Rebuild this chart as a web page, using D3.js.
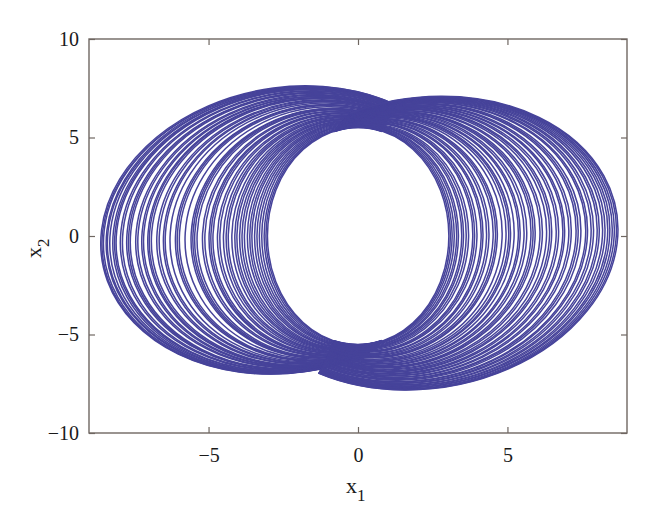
<!DOCTYPE html>
<html><head><meta charset="utf-8">
<script src="https://cdn.jsdelivr.net/npm/d3@7"></script>
<style>body{margin:0;background:#fff}</style>
</head><body>
<svg id="c" width="660" height="525"></svg>
<script>
// axis ticks
const xTicks = [-5, 0, 5];
const yTicks = [-10, -5, 0, 5, 10];
const xDomain = [-9, 9];
const yDomain = [-10, 10];

// left half-loops (x1 < 0): leftmost x1, centre x1, top x2, bottom x2
const leftArcX = [-8.58,-8.54,-8.49,-8.40,-8.36,-8.28,-8.18,-8.12,-8.07,-7.93,-7.86,-7.72,-7.66,-7.60,-7.42,-7.35,-7.22,-7.16,-7.02,-6.97,-6.90,-6.72,-6.64,-6.50,-6.44,-6.28,-6.10,-6.04,-5.97,-5.78,-5.58,-5.52,-5.46,-5.38,-5.20,-5.12,-4.98,-4.92,-4.85,-4.70,-4.62,-4.50,-4.41,-4.34,-4.22,-4.12,-4.05,-3.96,-3.88,-3.80,-3.70,-3.62,-3.55,-3.46,-3.38,-3.30,-3.22,-3.14,-3.08,-3.03];
const leftArcMid = [-2.34,-2.33,-2.28,-2.27,-2.25,-2.22,-2.18,-2.15,-2.13,-2.07,-2.04,-1.98,-1.96,-1.93,-1.86,-1.83,-1.77,-1.75,-1.69,-1.67,-1.64,-1.56,-1.53,-1.47,-1.44,-1.38,-1.30,-1.28,-1.25,-1.17,-1.08,-1.06,-1.03,-1.00,-0.92,-0.89,-0.83,-0.81,-0.78,-0.71,-0.68,-0.63,-0.59,-0.56,-0.51,-0.47,-0.44,-0.40,-0.37,-0.34,-0.29,-0.26,-0.23,-0.19,-0.16,-0.13,-0.09,-0.06,-0.03,-0.01];
const leftArcTop = [7.62,7.57,7.59,7.55,7.50,7.51,7.47,7.45,7.43,7.37,7.35,7.29,7.27,7.25,7.18,7.15,7.10,7.08,7.03,7.01,6.98,6.91,6.88,6.83,6.81,6.75,6.68,6.66,6.63,6.56,6.48,6.46,6.43,6.40,6.34,6.31,6.25,6.23,6.20,6.15,6.12,6.07,6.04,6.01,5.96,5.93,5.90,5.86,5.83,5.80,5.77,5.74,5.71,5.67,5.64,5.61,5.58,5.55,5.53,5.51];
const leftArcBottom = [-7.01,-7.00,-6.98,-6.96,-6.95,-6.93,-6.92,-6.88,-6.87,-6.83,-6.81,-6.77,-6.76,-6.74,-6.69,-6.67,-6.64,-6.62,-6.59,-6.57,-6.55,-6.50,-6.48,-6.45,-6.43,-6.39,-6.34,-6.32,-6.30,-6.25,-6.20,-6.18,-6.16,-6.14,-6.09,-6.07,-6.03,-6.02,-6.00,-5.96,-5.94,-5.91,-5.88,-5.86,-5.83,-5.80,-5.78,-5.76,-5.74,-5.72,-5.69,-5.67,-5.65,-5.62,-5.60,-5.58,-5.56,-5.54,-5.52,-5.51];

// right half-loops (x1 > 0): rightmost x1, centre x1, top x2, bottom x2
const rightArcX = [3.04,3.09,3.15,3.22,3.30,3.36,3.47,3.53,3.62,3.70,3.84,3.90,3.98,4.12,4.18,4.30,4.38,4.52,4.60,4.66,4.82,4.95,5.04,5.10,5.22,5.36,5.42,5.55,5.64,5.78,5.85,5.92,6.08,6.16,6.30,6.40,6.47,6.62,6.70,6.84,6.90,7.04,7.12,7.28,7.35,7.44,7.60,7.66,7.78,7.86,7.98,8.05,8.16,8.24,8.33,8.40,8.48,8.55,8.62,8.67];
const rightArcMid = [0.02,0.04,0.06,0.09,0.12,0.14,0.18,0.21,0.24,0.27,0.33,0.35,0.38,0.44,0.46,0.51,0.54,0.59,0.62,0.65,0.71,0.76,0.80,0.82,0.87,0.92,0.94,0.99,1.03,1.08,1.11,1.14,1.20,1.23,1.29,1.33,1.35,1.41,1.44,1.50,1.52,1.58,1.61,1.67,1.70,1.73,1.79,1.82,1.86,1.90,1.94,1.97,2.01,2.04,2.08,2.11,2.14,2.16,2.19,2.21];
const rightArcTop = [5.51,5.53,5.54,5.56,5.58,5.60,5.63,5.65,5.67,5.70,5.74,5.75,5.77,5.81,5.83,5.86,5.89,5.93,5.95,5.96,6.01,6.05,6.07,6.09,6.12,6.16,6.18,6.21,6.24,6.28,6.30,6.32,6.36,6.38,6.42,6.45,6.47,6.51,6.54,6.58,6.59,6.63,6.65,6.70,6.72,6.74,6.79,6.80,6.84,6.86,6.89,6.91,6.94,6.97,6.99,7.01,7.03,7.05,7.07,7.09];
const rightArcBottom = [-5.52,-5.54,-5.56,-5.59,-5.62,-5.65,-5.69,-5.72,-5.75,-5.79,-5.84,-5.87,-5.90,-5.96,-5.98,-6.03,-6.07,-6.12,-6.16,-6.18,-6.25,-6.30,-6.34,-6.36,-6.41,-6.47,-6.49,-6.55,-6.58,-6.64,-6.67,-6.70,-6.76,-6.80,-6.85,-6.89,-6.92,-6.98,-7.02,-7.07,-7.10,-7.16,-7.19,-7.25,-7.28,-7.32,-7.39,-7.41,-7.46,-7.49,-7.54,-7.57,-7.62,-7.65,-7.69,-7.71,-7.75,-7.78,-7.80,-7.82];

// hole half-width, distance each half-loop runs past x1 = 0, and lean of the widest loops
const holeHalfWidth = 3;
const crossOver = 0.8;
const maxTilt = 0.08; // x1 shift per unit of x2 for the outermost loops

const svg = d3.select("#c");
const x = d3.scaleLinear().domain(xDomain).range([89, 627]);
const y = d3.scaleLinear().domain(yDomain).range([433, 39]);

const spread = d3.scaleLinear().domain([0, 5.6]).range([0, maxTilt]).clamp(true);

function arcs(ext, mid, top, bot, side) {
  return ext.map((e, i) => ({
    cx: mid[i],
    cy: (top[i] + bot[i]) / 2,
    rx: Math.abs(e - mid[i]),
    ry: (top[i] - bot[i]) / 2,
    tilt: spread(Math.abs(e) - holeHalfWidth),
    endX: side < 0 ? crossOver : -crossOver,
    side
  }));
}
const halves = arcs(leftArcX, leftArcMid, leftArcTop, leftArcBottom, -1)
  .concat(arcs(rightArcX, rightArcMid, rightArcTop, rightArcBottom, 1));

svg.append("clipPath").attr("id", "clip")
  .append("rect").attr("x", 89).attr("y", 39).attr("width", 538).attr("height", 394);

const pxPerX = x(1) - x(0), pxPerY = y(0) - y(1);

function halfPath(d) {
  const prx = x(d.cx + d.rx) - x(d.cx);
  const pry = y(d.cy - d.ry) - y(d.cy);
  const c = Math.max(-1, Math.min(1, (d.endX - d.cx) / d.rx));
  const px = x(d.endX) - x(d.cx);
  const py = pry * Math.sqrt(1 - c * c);
  return `M${px},${-py}A${prx},${pry} 0 1 ${d.side < 0 ? 0 : 1} ${px},${py}`;
}

svg.append("g").attr("clip-path", "url(#clip)")
  .selectAll("path").data(halves).join("path")
  .attr("transform", d => {
    const deg = -Math.atan(d.tilt * pxPerX / pxPerY) * 180 / Math.PI;
    return `translate(${x(d.cx)},${y(d.cy)}) skewX(${deg})`;
  })
  .attr("d", halfPath)
  .attr("fill", "none")
  .attr("stroke", "#46439a")
  .attr("stroke-width", 1.5);

const fmt = d => d < 0 ? "\u2212" + Math.abs(d) : String(d);
const frameColor = "#6f6762";
const font = "'Liberation Serif', 'Times New Roman', serif";

function style(g) {
  g.select(".domain").remove();
  g.selectAll(".tick line").attr("stroke", frameColor).attr("stroke-width", 1.2);
  g.selectAll(".tick text").attr("fill", "#1a1a1a").style("font-family", font).style("font-size", "20px");
}

svg.append("g").attr("transform", "translate(0,433)")
  .call(d3.axisBottom(x).tickValues(xTicks).tickSize(-6).tickPadding(15).tickFormat(fmt)).call(style);
svg.append("g").attr("transform", "translate(0,39)")
  .call(d3.axisTop(x).tickValues(xTicks).tickSize(-6).tickFormat("")).call(style);
svg.append("g").attr("transform", "translate(89,0)")
  .call(d3.axisLeft(y).tickValues(yTicks).tickSize(-6).tickPadding(10).tickFormat(fmt)).call(style);
svg.append("g").attr("transform", "translate(627,0)")
  .call(d3.axisRight(y).tickValues(yTicks).tickSize(-6).tickFormat("")).call(style);

svg.append("rect").attr("x", 89).attr("y", 39).attr("width", 538).attr("height", 394)
  .attr("fill", "none").attr("stroke", frameColor).attr("stroke-width", 1.4);

const t1 = svg.append("text").attr("x", 346).attr("y", 493)
  .style("font-family", font).style("font-size", "22px").attr("fill", "#1a1a1a");
t1.append("tspan").text("x");
t1.append("tspan").attr("dy", 8).style("font-size", "17px").text("1");

const t2 = svg.append("text").attr("transform", "translate(41,258) rotate(-90)")
  .style("font-family", font).style("font-size", "22px").attr("fill", "#1a1a1a");
t2.append("tspan").text("x");
t2.append("tspan").attr("dy", 8).style("font-size", "17px").text("2");
</script>
</body></html>
